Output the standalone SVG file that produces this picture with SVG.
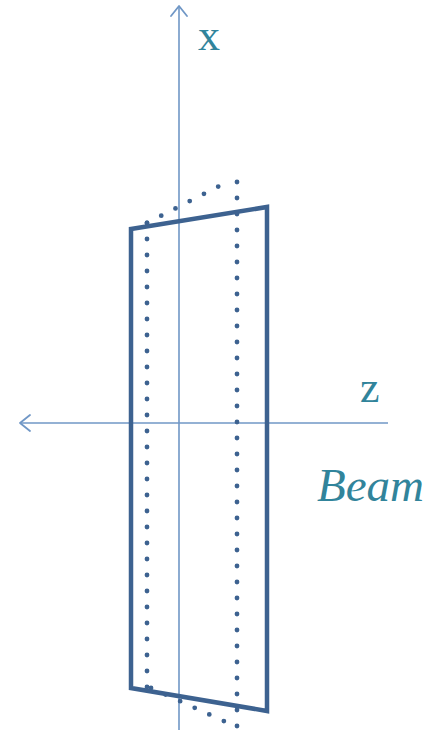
<svg xmlns="http://www.w3.org/2000/svg" width="440" height="730" viewBox="0 0 440 730">
<style>
.axis{stroke:#7097c6;stroke-width:1.6;fill:none}
.arr{stroke:#7097c6;stroke-width:1.8;fill:none;stroke-linecap:round;stroke-linejoin:round}
.solid{stroke:#3d6290;stroke-width:4.5;fill:none;stroke-linejoin:miter}
.dot{stroke:#3d6290;stroke-width:4.8;fill:none;stroke-linecap:round;stroke-dasharray:0 16}
.lbl{font-family:"Liberation Serif",serif;fill:#31849b}
</style>
<rect width="440" height="730" fill="#fff"/>
<g id="connectors">
<line class="axis" x1="179" y1="6" x2="179" y2="730"/>
<polyline class="arr" points="171,16 179,6 187,16"/>
<line class="axis" x1="20" y1="423" x2="388" y2="423"/>
<polyline class="arr" points="30,415 20,423 30,431"/>
</g>
<g id="dotted">
<path class="dot" d="M237,182 L237,727"/>
<path class="dot" d="M147,223 L147,688"/>
<path class="dot" d="M147,223 L229,181"/>
<path class="dot" d="M151,688 L237,727"/>
</g>
<g id="solid">
<polygon class="solid" points="131,229 267,207 267,711 131,688"/>
</g>
<g id="labels">
<text class="lbl" x="198" y="50" font-size="44">x</text>
<text class="lbl" x="360" y="402" font-size="44">z</text>
<text class="lbl" x="317" y="501" font-size="47" font-style="italic">Beam</text>
</g>
</svg>
